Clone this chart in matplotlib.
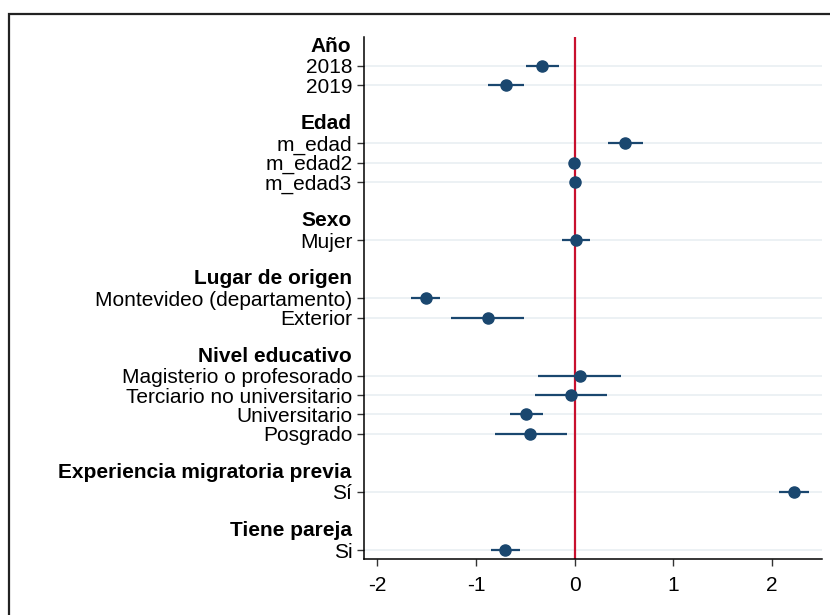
import matplotlib
matplotlib.use("Agg")
import matplotlib.pyplot as plt
import matplotlib.transforms as mtransforms
from matplotlib.patches import Rectangle

plt.rcParams['font.family'] = ['Liberation Sans', 'DejaVu Sans']

# coefficient groups (header, labels)
headers = ["Año", "Edad", "Sexo", "Lugar de origen", "Nivel educativo",
           "Experiencia migratoria previa", "Tiene pareja"]
group_labels = [
    ["2018", "2019"],
    ["m_edad", "m_edad2", "m_edad3"],
    ["Mujer"],
    ["Montevideo (departamento)", "Exterior"],
    ["Magisterio o profesorado", "Terciario no universitario", "Universitario", "Posgrado"],
    ["Sí"],
    ["Si"],
]
coef = [-0.33, -0.70, 0.51, -0.01, 0.00, 0.01, -1.51, -0.88,
        0.05, -0.04, -0.49, -0.45, 2.22, -0.71]
ci_lo = [-0.49, -0.88, 0.34, -0.01, 0.00, -0.125, -1.66, -1.25,
         -0.37, -0.405, -0.66, -0.81, 2.07, -0.85]
ci_hi = [-0.16, -0.51, 0.69, -0.01, 0.00, 0.15, -1.365, -0.51,
         0.47, 0.33, -0.32, -0.08, 2.37, -0.55]
xticks = [-2, -1, 0, 1, 2]

navy = "#1a476f"
red = "#c8102e"
grid_col = "#eaf0f3"

# row positions: header row, items, blank row between groups
item_pos, item_lab, head_pos = [], [], []
r = 0
for h, labs in zip(headers, group_labels):
    head_pos.append(r)
    r += 1
    for lab in labs:
        item_pos.append(r)
        item_lab.append(lab)
        r += 1
    r += 1

fig = plt.figure(figsize=(8.3, 6.15), dpi=100)
ax = fig.add_axes([364/830, 1 - 559.3/615, (822-364)/830, (559.3-37.3)/615])

ax.axvline(0, color=red, lw=1.6, zorder=2)
ax.hlines(item_pos, ci_lo, ci_hi, color=navy, lw=1.6, zorder=3)
ax.plot(coef, item_pos, 'o', color=navy, ms=8, zorder=4)

ax.set_xlim(-2.135, 2.505)
ax.set_ylim(26.48, -0.466)
ax.set_xticks(xticks)
ax.set_xticklabels([str(t) for t in xticks])
ax.set_yticks(item_pos)
ax.set_yticklabels(item_lab)
ax.tick_params(axis='both', labelsize=15, length=5, width=1, color='#333333')
ax.tick_params(axis='y', pad=3.5)
ax.tick_params(axis='x', pad=7)
ax.yaxis.grid(True, color=grid_col, lw=1.3, zorder=0)
ax.set_axisbelow(True)
for s in ['top', 'right']:
    ax.spines[s].set_visible(False)
for s in ['left', 'bottom']:
    ax.spines[s].set_linewidth(1.1)

tr = mtransforms.offset_copy(ax.get_yaxis_transform(), fig=fig, x=-12.5, y=0, units='dots')
for h, p in zip(headers, head_pos):
    ax.text(0, p, h, transform=tr, ha='right', va='center',
            fontsize=15, fontweight='bold')

# outer frame
fig.patches.append(Rectangle((9/830, -0.1), 1.2, (615-14)/615 + 0.1, fill=False,
                             lw=1.6, edgecolor='#222222', transform=fig.transFigure))

fig.savefig("out.png", dpi=100)
